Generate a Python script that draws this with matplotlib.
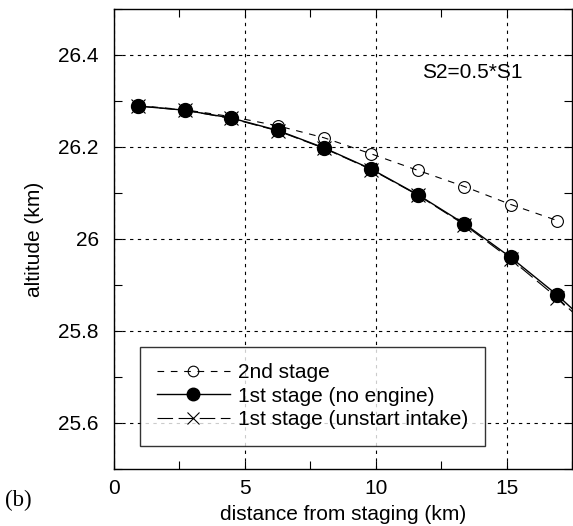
import matplotlib
matplotlib.use("Agg")
import matplotlib.pyplot as plt
from matplotlib.ticker import MultipleLocator

plt.rcParams['font.family'] = ['Liberation Sans', 'DejaVu Sans']

# distance from staging (km)
x_2nd = [0.93, 2.70, 4.48, 6.26, 8.03, 9.83, 11.62, 13.39, 15.16, 16.94]
y_2nd = [26.290, 26.281, 26.266, 26.246, 26.220, 26.185, 26.149, 26.114, 26.075, 26.040]

x_1st = [0.93, 2.70, 4.48, 6.26, 8.03, 9.83, 11.62, 13.39, 15.16, 16.94, 18.72]
y_noeng = [26.289, 26.280, 26.263, 26.236, 26.198, 26.152, 26.096, 26.033, 25.960, 25.878, 25.785]
y_unstart = [26.289, 26.280, 26.262, 26.235, 26.197, 26.151, 26.095, 26.031, 25.956, 25.872, 25.778]

xticks = [0, 5, 10, 15]
yticks = [25.6, 25.8, 26.0, 26.2, 26.4]
ytick_labels = ['25.6', '25.8', '26', '26.2', '26.4']

FS = 15

fig = plt.figure(figsize=(5.73, 5.26), dpi=100)
ax = fig.add_axes([114/573, 57/526, 458/573, 460/526])

l1, = ax.plot(x_2nd, y_2nd, color='black', lw=0.8, linestyle='none',
              marker='o', markersize=8.5, markerfacecolor='white', markeredgecolor='black',
              markeredgewidth=0.8, zorder=3)
l1b, = ax.plot(x_2nd, y_2nd, color='black', lw=0.8, linestyle=(0, (6, 6)), zorder=3.5)
l2, = ax.plot(x_1st, y_noeng, color='black', lw=1.0, linestyle='-',
              marker='o', markersize=10, markerfacecolor='black', markeredgecolor='black',
              zorder=4)
l3, = ax.plot(x_1st, y_unstart, color='black', lw=0.8, linestyle=(0, (14, 5)),
              marker='x', markersize=10, markeredgewidth=0.8, zorder=5)

ax.set_xlim(0, 17.5)
ax.set_ylim(25.5, 26.5)
ax.set_xticks(xticks)
ax.set_xticklabels([str(t) for t in xticks])
ax.set_yticks(yticks)
ax.set_yticklabels(ytick_labels)
ax.xaxis.set_minor_locator(MultipleLocator(2.5))
ax.yaxis.set_minor_locator(MultipleLocator(0.1))
ax.tick_params(which='both', direction='in', top=True, right=True,
               length=6, width=0.8, labelsize=FS)
ax.tick_params(axis='x', which='both', pad=7)
ax.tick_params(axis='y', which='both', pad=11)
ax.grid(True, which='major', color='black', linestyle=(0, (3, 4)), linewidth=0.8)
for s in ax.spines.values():
    s.set_linewidth(1.0)

ax.set_xlabel('distance from staging (km)', fontsize=FS, labelpad=5)
ax.set_ylabel('altitude (km)', fontsize=FS, labelpad=10)

ax.text(11.76, 26.363, 'S2=0.5*S1', fontsize=FS, va='center', ha='left')

leg = ax.legend([(l1, l1b), l2, l3],
                ['2nd stage', '1st stage (no engine)', '1st stage (unstart intake)'],
                loc='lower left', bbox_to_anchor=(26/458, 23/460),
                fontsize=FS, frameon=True, fancybox=False, edgecolor='black',
                handlelength=3.5, borderpad=0.8, labelspacing=0.22, handletextpad=0.4,
                borderaxespad=0, markerscale=0.9)
leg.get_frame().set_linewidth(1.0)

fig.text(5/573, 1 - 506/526, '(b)', fontsize=16.5, family='Liberation Serif',
         ha='left', va='baseline')

fig.savefig('out.png', dpi=100)
